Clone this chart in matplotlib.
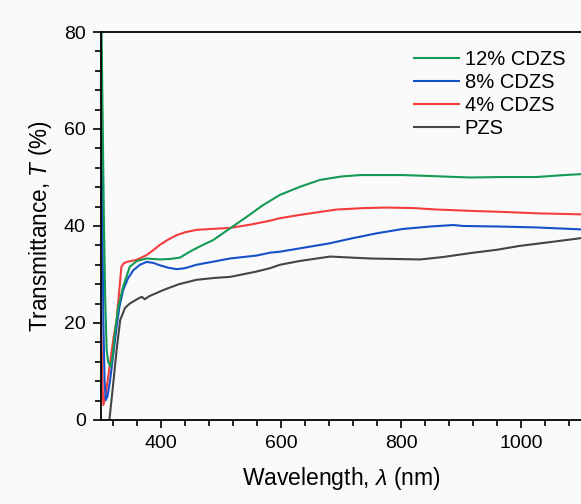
import matplotlib
matplotlib.use("Agg")
import matplotlib.pyplot as plt
from matplotlib.ticker import MultipleLocator

plt.rcParams['font.family'] = ['Liberation Sans', 'DejaVu Sans']
plt.rcParams['mathtext.fontset'] = 'custom'
plt.rcParams['mathtext.rm'] = 'Liberation Sans'
plt.rcParams['mathtext.it'] = 'Liberation Sans:italic'

# transmittance spectra
wl_12 = [300, 301, 303, 305, 307, 309.5, 312, 316, 320, 323, 329, 337, 348, 360, 376,
         398, 415, 432, 448, 465, 487, 515, 543, 570, 598, 632, 665, 700, 732, 770,
         804, 850, 915, 970, 1026, 1060, 1100]
t_12 = [85, 80, 60, 40, 25, 14.4, 12, 11, 13.5, 17.9, 23.4, 27.5, 31.6, 32.8, 33.3,
        33.1, 33.2, 33.5, 34.7, 35.8, 37.1, 39.5, 41.9, 44.3, 46.4, 48.1, 49.5, 50.2, 50.5, 50.5,
        50.5, 50.3, 50.0, 50.1, 50.1, 50.4, 50.7]

wl_8 = [300, 302, 304, 306, 308, 311, 315, 320, 326, 331, 337, 345, 354, 365, 376,
        387, 398, 412, 426, 440, 459, 485, 515, 559, 582, 598, 632, 680, 720, 760,
        804, 850, 887, 904, 960, 1026, 1100]
t_8 = [65, 45, 20, 8, 4.1, 5, 8, 13, 19.2, 23.5, 26.8, 29.2, 30.9, 32.0, 32.6,
       32.4, 31.9, 31.4, 31.1, 31.3, 32.0, 32.6, 33.3, 33.9, 34.5, 34.7, 35.4, 36.4, 37.5, 38.5,
       39.4, 39.9, 40.2, 40.0, 39.9, 39.7, 39.3]

wl_4 = [300, 302, 304, 307, 311, 316, 321, 326, 330, 334, 338, 343, 359, 376, 387,
        398, 412, 426, 440, 459, 485, 515, 550, 582, 598, 632, 693, 740, 776, 820,
        859, 920, 970, 1030, 1100]
t_4 = [22, 9, 3.1, 4.5, 8, 12.5, 17, 20.6, 26, 31.6, 32.3, 32.6, 33.0, 34.0, 35.0,
       36.1, 37.2, 38.1, 38.7, 39.2, 39.4, 39.6, 40.3, 41.1, 41.6, 42.3, 43.4, 43.7, 43.8, 43.7,
       43.4, 43.1, 42.9, 42.6, 42.4]

wl_pzs = [312, 314, 317, 320.5, 326, 332, 340, 348, 360, 368, 373, 380, 404, 430, 459,
          490, 515, 559, 582, 598, 632, 682, 748, 790, 832, 870, 915, 960, 998, 1050, 1100]
t_pzs = [-2, 0, 3.5, 7.6, 14.4, 20.6, 23.1, 24.0, 24.9, 25.4, 24.9, 25.5, 26.8, 28.0, 28.9,
         29.3, 29.5, 30.6, 31.3, 32.0, 32.8, 33.7, 33.3, 33.2, 33.1, 33.6, 34.4, 35.1, 35.9, 36.7, 37.5]

labels = ['12% CDZS', '8% CDZS', '4% CDZS', 'PZS']
colors = ['#139a55', '#1451c8', '#f53c3c', '#454545']

fig = plt.figure(figsize=(5.81, 5.04), dpi=100, facecolor='#fafafa')
ax = fig.add_axes([0.1738, 0.1667, 0.8262, 0.7698])
ax.set_facecolor('#fafafa')

h_pzs, = ax.plot(wl_pzs, t_pzs, color=colors[3], lw=1.5)
h_4, = ax.plot(wl_4, t_4, color=colors[2], lw=1.5)
h_8, = ax.plot(wl_8, t_8, color=colors[1], lw=1.5)
h_12, = ax.plot(wl_12, t_12, color=colors[0], lw=1.5)

ax.set_xlim(300, 1100)
ax.set_ylim(0, 80)
ax.xaxis.set_major_locator(MultipleLocator(200))
ax.xaxis.set_minor_locator(MultipleLocator(40))
ax.yaxis.set_major_locator(MultipleLocator(20))
ax.yaxis.set_minor_locator(MultipleLocator(4))
ax.tick_params(which='major', direction='out', length=6, width=1.2, labelsize=14, pad=5)
ax.tick_params(which='minor', direction='out', length=4, width=1.2)
ax.spines['right'].set_visible(False)
for s in ['left', 'bottom', 'top']:
    ax.spines[s].set_linewidth(1.3)

ax.set_xlabel(r'Wavelength, $\it{\lambda}$ (nm)', fontsize=16.5, labelpad=9)
ax.set_ylabel(r'Transmittance, $\it{T}$ (%)', fontsize=16.3, labelpad=7)

ax.legend([h_12, h_8, h_4, h_pzs], labels, loc='upper right', frameon=False,
          fontsize=14.5, handlelength=2.2, handletextpad=0.3, labelspacing=0.2,
          bbox_to_anchor=(1.005, 1.0))

fig.savefig('out.png', dpi=100, facecolor=fig.get_facecolor())
